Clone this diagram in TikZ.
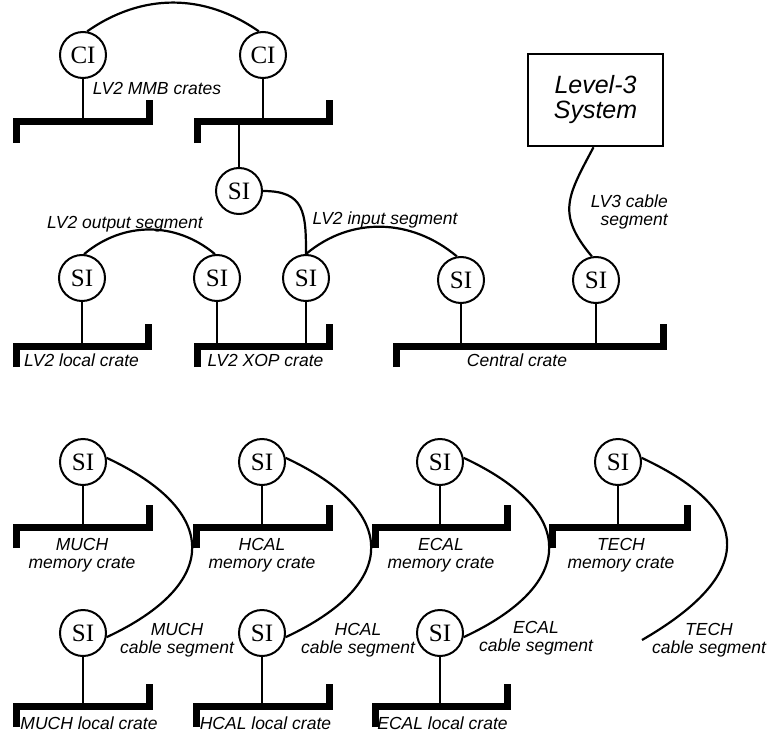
\documentclass[tikz,border=0pt]{standalone}
\usepackage{fontspec}
\usepackage{tikz}
\newfontfamily\tagfont{Liberation Sans}
\newfontfamily\ifacefont{Liberation Serif}

% crate backplane: name, left leg x, right leg x, bar y
\newcommand{\cratebar}[4]{%
  \coordinate (#1) at (#2,#4);
  \draw[bus] (#2,#4-21) -- (#2,#4) -- (#3,#4) -- (#3,#4+22);}

\begin{document}
\begin{tikzpicture}[x=1pt, y=1pt,
    iface/.style={circle, draw, line width=2pt, minimum size=46pt, inner sep=0pt, fill=white, font=\ifacefont\fontsize{25}{25}\selectfont},
    bus/.style={line width=7pt, line join=miter},
    cable/.style={line width=2.2pt},
    tag/.style={font=\tagfont\itshape\fontsize{17.5}{18}\selectfont, align=center, inner sep=0pt},
    sysbox/.style={rectangle, draw, line width=2.5pt, minimum width=135pt, minimum height=92pt, align=center, font=\tagfont\itshape\fontsize{25}{25}\selectfont}]
    \useasboundingbox (0,0) rectangle (773,-733);

    % LV2 part
    \node[iface] (ci-a) at (83,-55) {CI};
    \node[iface] (ci-b) at (263,-55) {CI};
    \node[iface] (si-mmb) at (239,-191) {SI};
    \node[iface] (si-out-a) at (82,-278) {SI};
    \node[iface] (si-out-b) at (217,-278) {SI};
    \node[iface] (si-xop) at (306,-278) {SI};
    \node[iface] (si-cen-a) at (461,-280) {SI};
    \node[iface] (si-cen-b) at (596,-280) {SI};
    \node[sysbox] (lv3) at (595.5,-100) {Level-3\\System};

    \cratebar{mmb-a}{16}{149}{-122}
    \cratebar{mmb-b}{197}{329}{-122}
    \cratebar{lv2-loc}{16}{148}{-346}
    \cratebar{lv2-xop}{197}{329}{-346}
    \cratebar{central}{396}{663}{-346}

    \draw[cable] (ci-a) -- (ci-a |- mmb-a);
    \draw[cable] (ci-b) -- (ci-b |- mmb-b);
    \draw[cable] (si-mmb) -- (si-mmb |- mmb-b);
    \draw[cable] (si-out-a) -- (si-out-a |- lv2-loc);
    \draw[cable] (si-out-b) -- (si-out-b |- lv2-xop);
    \draw[cable] (si-xop) -- (si-xop |- lv2-xop);
    \draw[cable] (si-cen-a) -- (si-cen-a |- central);
    \draw[cable] (si-cen-b) -- (si-cen-b |- central);

    \draw[cable] (ci-a.80) to[out=35, in=145] (ci-b.100);
    \draw[cable] (si-out-a.85) to[out=40, in=140] (si-out-b.95);
    \draw[cable] (si-mmb.east) to[out=0, in=90, looseness=1.4] (si-xop.north);
    \draw[cable] (si-xop.north) to[out=40, in=140] (si-cen-a.100);
    \draw[cable] ([xshift=-2pt]lv3.south) to[out=-118, in=130, looseness=1.3] (si-cen-b.100);

    \node[tag] (t-mmb) at (157,-88) {LV2 MMB crates};
    \node[tag] (t-out) at (125,-224) {LV2 output segment};
    \node[tag] (t-in) at (385,-220) {LV2 input segment};
    \node[tag, align=right, anchor=east] (t-lv3) at (668,-212) {LV3 cable\\segment};
    \node[tag, anchor=base] (t-loc) at (81.5,-366) {LV2 local crate};
    \node[tag, anchor=base] (t-xop) at (265.5,-366) {LV2 XOP crate};
    \node[tag, anchor=base] (t-cen) at (517,-366) {Central crate};

    % detector crates
    \node[iface] (si-much-m) at (83,-462) {SI};
    \node[iface] (si-hcal-m) at (262,-462) {SI};
    \node[iface] (si-ecal-m) at (440,-462) {SI};
    \node[iface] (si-tech-m) at (618,-462) {SI};
    \node[iface] (si-much-l) at (83,-633) {SI};
    \node[iface] (si-hcal-l) at (262,-633) {SI};
    \node[iface] (si-ecal-l) at (440,-633) {SI};
    \coordinate (tech-end) at (642,-640);

    \cratebar{much-mem}{16}{149}{-527}
    \cratebar{hcal-mem}{196}{329}{-527}
    \cratebar{ecal-mem}{375}{507}{-527}
    \cratebar{tech-mem}{552}{687}{-527}
    \cratebar{much-loc}{16}{149}{-706}
    \cratebar{hcal-loc}{196}{329}{-706}
    \cratebar{ecal-loc}{375}{507}{-706}

    \draw[cable] (si-much-m) -- (si-much-m |- much-mem);
    \draw[cable] (si-hcal-m) -- (si-hcal-m |- hcal-mem);
    \draw[cable] (si-ecal-m) -- (si-ecal-m |- ecal-mem);
    \draw[cable] (si-tech-m) -- (si-tech-m |- tech-mem);
    \draw[cable] (si-much-l) -- (si-much-l |- much-loc);
    \draw[cable] (si-hcal-l) -- (si-hcal-l |- hcal-loc);
    \draw[cable] (si-ecal-l) -- (si-ecal-l |- ecal-loc);

    \draw[cable] (si-much-m.10) to[out=-25, in=25, looseness=1.8] (si-much-l.-10);
    \draw[cable] (si-hcal-m.10) to[out=-25, in=25, looseness=1.8] (si-hcal-l.-10);
    \draw[cable] (si-ecal-m.10) to[out=-25, in=25, looseness=1.8] (si-ecal-l.-10);
    \draw[cable] (si-tech-m.10) to[out=-25, in=30, looseness=1.8] (tech-end);

    \node[tag] (t-much-m) at (82,-555) {MUCH\\memory crate};
    \node[tag] (t-hcal-m) at (262,-555) {HCAL\\memory crate};
    \node[tag] (t-ecal-m) at (441,-555) {ECAL\\memory crate};
    \node[tag] (t-tech-m) at (621,-555) {TECH\\memory crate};
    \node[tag] (t-much-c) at (177,-640) {MUCH\\cable segment};
    \node[tag] (t-hcal-c) at (358,-640) {HCAL\\cable segment};
    \node[tag] (t-ecal-c) at (536,-638) {ECAL\\cable segment};
    \node[tag] (t-tech-c) at (709,-640) {TECH\\cable segment};
    \node[tag, anchor=base] (t-much-l) at (89,-729) {MUCH local crate};
    \node[tag, anchor=base] (t-hcal-l) at (265.5,-729) {HCAL local crate};
    \node[tag, anchor=base] (t-ecal-l) at (442.5,-729) {ECAL local crate};
\end{tikzpicture}
\end{document}
